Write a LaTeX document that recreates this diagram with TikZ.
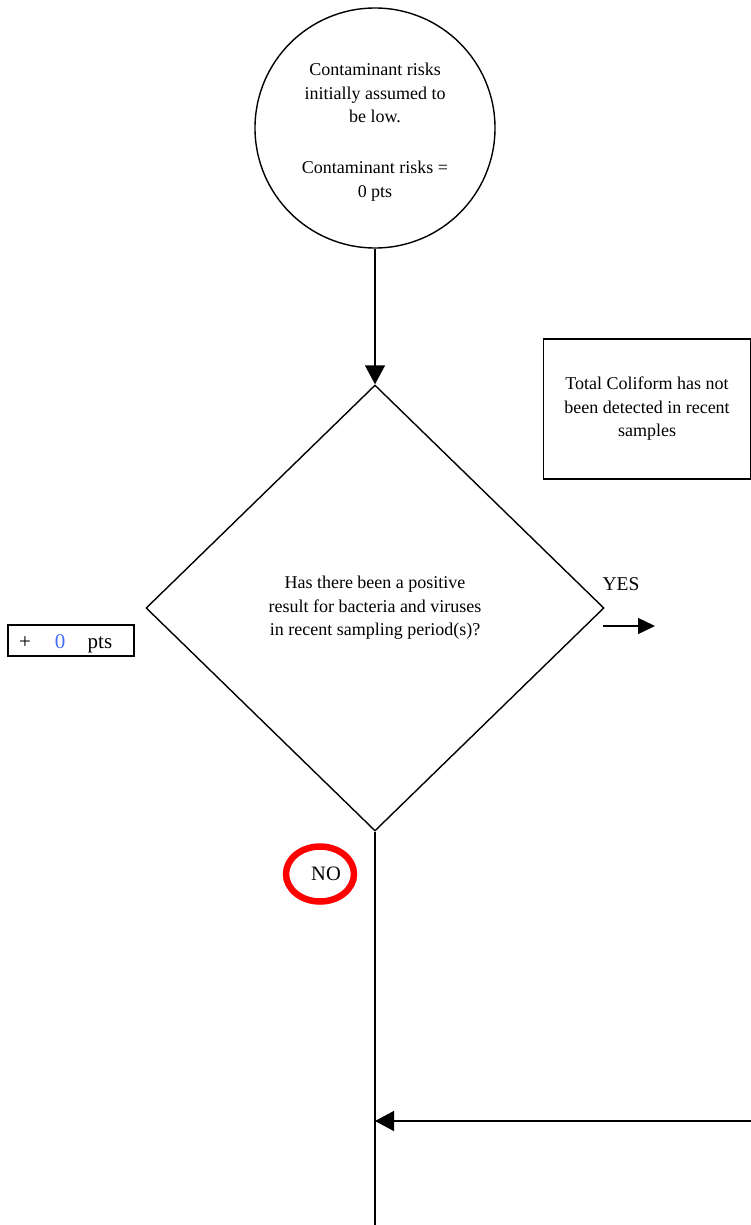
\documentclass[tikz,border=0pt]{standalone}
\usepackage{fontspec}
\setmainfont{Liberation Serif}
\usetikzlibrary{shapes.geometric,arrows.meta}
\begin{document}
\begin{tikzpicture}[x=1pt,y=-1pt,
  line width=1.4pt,
  txt/.style={font=\fontsize{18}{23.5}\selectfont, align=center, inner sep=0pt},
  big/.style={font=\fontsize{21}{22}\selectfont, anchor=base, inner sep=0pt},
  arr/.style={-{Triangle[length=19pt,width=20pt]}},
  arrs/.style={-{Triangle[length=17pt,width=16pt]}}]
\useasboundingbox (0,0) rectangle (751,1225);
\node[circle, draw, minimum size=240pt, inner sep=0pt] (start) at (375,128) {};
\node[txt] (startt) at (375,132)
  {Contaminant risks\\initially assumed to\\be low.\\[27.5pt]Contaminant risks =\\0 pts};
\node[diamond, draw, minimum width=458pt, minimum height=446pt, inner sep=0pt, txt] (q) at (375,608)
  {Has there been a positive\\result for bacteria and viruses\\in recent sampling period(s)?};
\draw[arr] (start.south) -- (q.north);
\node[draw, minimum width=207pt, minimum height=140pt, inner sep=0pt, txt] (tc) at (647,409)
  {Total Coliform has not\\been detected in recent\\samples};
\node[big, font=\fontsize{19.5}{20}\selectfont] (yes) at (621,590) {YES};
\coordinate (ys) at (603,626);
\coordinate (ye) at (655,626);
\draw[arrs] (ys) -- (ye);
\node[draw, line width=2.6pt, minimum width=126pt, minimum height=31pt, inner sep=0pt] (pts) at (71,640.5) {};
\node[big] (plus) at (25,648) {+};
\node[big, text={rgb,255:red,66;green,110;blue,240}] (zero) at (60,648) {0};
\node[big] (ptsl) at (100,648) {pts};
\node[font=\fontsize{20.5}{22}\selectfont, inner sep=0pt] (no) at (326,874) {NO};
\draw[red, line width=6.5pt] (320,874) ellipse [x radius=34, y radius=27.5];
\coordinate (bot) at (375,1225);
\draw (q.south) -- (bot);
\coordinate (rin) at (751,1121);
\coordinate (jn) at (375,1121);
\draw[arr] (rin) -- (jn);
\end{tikzpicture}
\end{document}
